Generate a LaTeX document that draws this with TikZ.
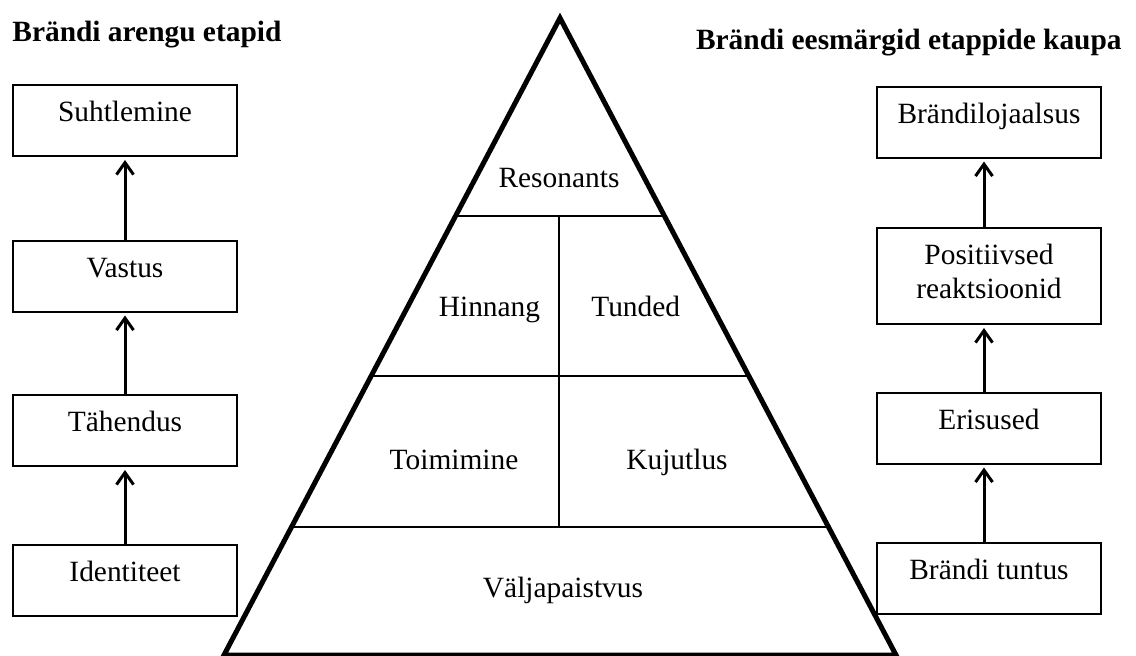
\documentclass[tikz,border=0pt]{standalone}
\usepackage{fontspec}
\setmainfont{Liberation Serif}
\usetikzlibrary{arrows.meta,calc}

\newcommand{\bodysize}{\fontsize{14.7pt}{17pt}\selectfont}

\tikzset{
  boxbase/.style={draw, line width=1pt, minimum width=112pt, minimum height=35.5pt, inner sep=0pt},
  stagebox/.style={boxbase, text height=6pt, text depth=5pt},
  uparrow/.style={line width=1.5pt, -{Straight Barb[length=6pt,width=8.5pt]}, shorten >=1.5pt},
  layer/.style={anchor=base, inner sep=0pt},
  heading/.style={font=\bodysize\bfseries, inner sep=0pt}
}

\begin{document}
\begin{tikzpicture}[x=0.5pt, y=-0.5pt, font=\bodysize]
  \useasboundingbox (0,0) rectangle (1136,655);

  % Headings
  \node[heading, anchor=base west] (lhead) at (12,41.7) {Brändi arengu etapid};
  \node[heading, anchor=base east] (rhead) at (1122,49) {Brändi eesmärgid etappide kaupa};

  % Left column
  \foreach \name/\y/\txt in {lid/580.5/Identiteet, lmean/430.5/Tähendus, lresp/276/Vastus, lrel/120.5/Suhtlemine}
    \node[stagebox] (\name) at (125,\y) {\txt};
  \foreach \from/\to in {lid/lmean, lmean/lresp, lresp/lrel}
    \draw[uparrow] (\from.north) -- (\to.south);

  % Right column
  \node[stagebox] (raware) at (989,578.5) {Brändi tuntus};
  \node[stagebox] (rdiff) at (989,428) {Erisused};
  \node[boxbase, minimum height=48pt, align=center] (rpos) at (989,276) {Positiivsed\\reaktsioonid\rule[-5pt]{0pt}{0pt}};
  \node[stagebox] (rloyal) at (989,122) {Brändilojaalsus};
  \foreach \from/\to in {raware/rdiff, rdiff/rpos, rpos/rloyal}
    \draw[uparrow] ([xshift=-2.5pt]\from.north) -- ([xshift=-2.5pt]\to.south);

  % Pyramid
  \coordinate (apex) at (560,18);
  \coordinate (bl) at (224,655);
  \coordinate (br) at (896,655);
  \draw[line width=2.5pt] (bl) -- (apex) -- (br) -- cycle;
  \foreach \t in {0.311,0.562,0.799}
    \draw[line width=1pt] ($(apex)!\t!(bl)$) -- ($(apex)!\t!(br)$);
  \draw[line width=1pt] (559,216) -- (559,527);

  % Layer labels
  \node[layer] (res) at (559,187) {Resonants};
  \node[layer] (judg) at (489.5,316.7) {Hinnang};
  \node[layer] (feel) at (635.7,316.7) {Tunded};
  \node[layer] (perf) at (454,469) {Toimimine};
  \node[layer] (imag) at (677,469) {Kujutlus};
  \node[layer] (sal) at (563,597.5) {Väljapaistvus};
\end{tikzpicture}
\end{document}
